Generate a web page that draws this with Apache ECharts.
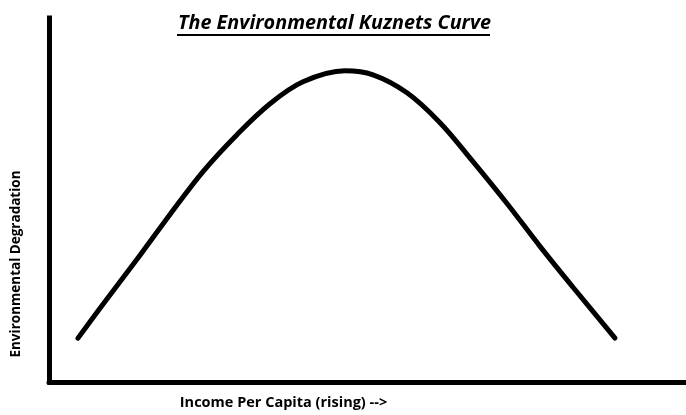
<!DOCTYPE html>
<html>
<head>
  <meta charset="UTF-8">
  <title>The Environmental Kuznets Curve</title>
  <script src="https://cdn.jsdelivr.net/npm/echarts@6/dist/echarts.min.js"></script>
  <style>
    html, body { margin: 0; padding: 0; background: #fff; }
  </style>
</head>
<body>
  <div id="main" style="width: 686px; height: 415px;"></div>
  <script>
    // income per capita (arbitrary units) and environmental degradation
    const income = [29, 54, 88, 121, 154, 188, 221, 254, 296, 324, 358, 391, 424, 458, 491, 524, 566];
    const degradation = [44, 78, 123, 168, 211, 248, 279, 301, 312, 308, 290, 260, 221, 179, 136, 95, 44];

    const titleText = 'The Environmental Kuznets Curve';
    const xName = 'Income Per Capita (rising) -->';
    const yName = 'Environmental Degradation';

    const font = '"Open Sans", "DejaVu Sans", sans-serif';

    const chart = echarts.init(document.getElementById('main'));
    const option = {
      backgroundColor: '#fff',
      animation: false,
      title: {
        text: titleText,
        left: 173,
        top: 8,
        textStyle: {
          fontFamily: font,
          fontStyle: 'italic',
          fontWeight: 'bold',
          fontSize: 19.8,
          color: '#000'
        }
      },
      grid: {
        left: 49,
        right: 0,
        top: 18,
        bottom: 32
      },
      xAxis: {
        type: 'value',
        min: 0,
        max: 637,
        name: xName,
        nameLocation: 'middle',
        nameGap: 13,
        nameTextStyle: {
          fontFamily: font,
          fontWeight: 'bold',
          fontSize: 14.5,
          color: '#000',
          padding: [0, 168, 0, 0]
        },
        axisLine: { lineStyle: { color: '#000', width: 5 } },
        axisTick: { show: false },
        axisLabel: { show: false },
        splitLine: { show: false }
      },
      yAxis: {
        type: 'value',
        min: 0,
        max: 365,
        name: yName,
        nameLocation: 'middle',
        nameGap: 26,
        nameTextStyle: {
          fontFamily: font,
          fontWeight: 'bold',
          fontSize: 13.5,
          color: '#000',
          padding: [0, 128, 0, 0]
        },
        axisLine: { show: true, lineStyle: { color: '#000', width: 5, cap: 'square' } },
        axisTick: { show: false },
        axisLabel: { show: false },
        splitLine: { show: false }
      },
      graphic: [{
        // underline of the title
        type: 'line',
        shape: { x1: 177, y1: 35, x2: 490, y2: 35 },
        style: { stroke: '#000', lineWidth: 2 }
      }],
      series: [{
        type: 'line',
        data: income.map((x, i) => [x, degradation[i]]),
        smooth: 0.35,
        symbol: 'none',
        lineStyle: { color: '#000', width: 5, cap: 'round' }
      }]
    };
    chart.setOption(option);
  </script>
</body>
</html>
